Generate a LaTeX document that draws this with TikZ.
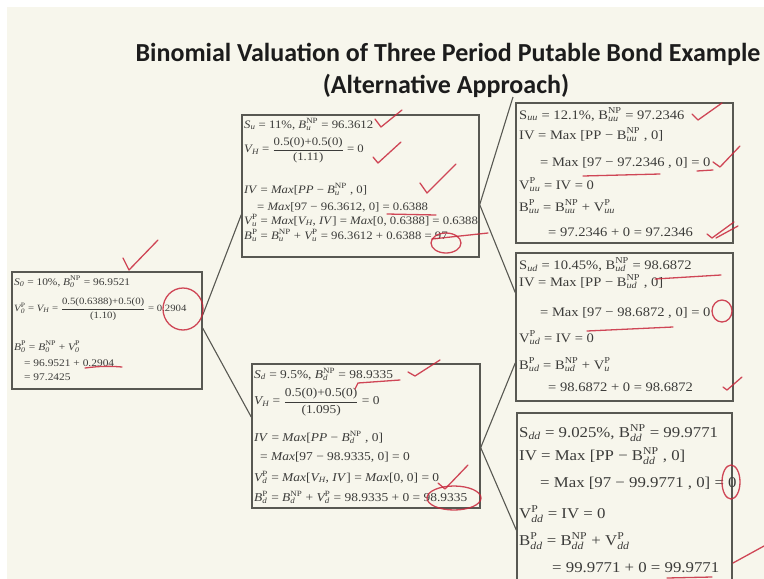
\documentclass[tikz,border=0pt]{standalone}
\usepackage{amsmath}
\usepackage{fontspec}
\setmainfont{Liberation Serif}
\newfontfamily\titlefont{Carlito}
\newfontfamily\wserif{Liberation Serif}[FakeStretch=1.12]
\usetikzlibrary{calc}
\definecolor{bg}{RGB}{247,246,236}
\definecolor{ink}{RGB}{60,60,58}
\definecolor{frame}{RGB}{88,88,82}
\definecolor{pen}{RGB}{200,40,60}
\definecolor{titleink}{RGB}{28,28,28}
\newcommand{\Iv}[3]{\ensuremath{\textit{#1}^{\textup{#3}}_{\textit{#2}}}}
\newcommand{\Is}[2]{\ensuremath{\textit{#1}_{\textit{#2}}}}
\newcommand{\Rv}[3]{\ensuremath{\textup{#1}^{\textup{#3}}_{\textit{#2}}}}
\newcommand{\Rs}[2]{\ensuremath{\textup{#1}_{\textit{#2}}}}
\newcommand{\Fr}[2]{\ensuremath{\displaystyle\frac{\mbox{#1}}{\mbox{#2}}}}
\begin{document}
\begin{tikzpicture}[x=1pt,y=-1pt,
  box/.style={draw=frame, line width=1.4pt, inner sep=0pt},
  link/.style={draw=frame, line width=1.1pt},
  ti/.style={inner sep=0pt, text=ink, anchor=base west, font=\wserif\fontsize{10.2}{12}\selectfont},
  tf/.style={inner sep=0pt, text=ink, anchor=west, font=\wserif\fontsize{9.6}{11}\selectfont},
  tm/.style={inner sep=0pt, text=ink, anchor=base west, font=\wserif\fontsize{11.4}{13}\selectfont},
  tn/.style={inner sep=0pt, text=ink, anchor=base west, font=\wserif\fontsize{12}{14}\selectfont},
  tr/.style={inner sep=0pt, text=ink, anchor=base west, font=\wserif\fontsize{13}{15}\selectfont},
  tb/.style={inner sep=0pt, text=ink, anchor=base west, font=\wserif\fontsize{15}{17}\selectfont},
  ttl/.style={inner sep=0pt, text=titleink, anchor=base, font=\titlefont\bfseries\fontsize{26}{31}\selectfont},
  redpen/.style={draw=pen, line width=1.3pt, line cap=round, line join=round, opacity=0.85}
]
\useasboundingbox (0,0) rectangle (764,579);
\fill[white] (0,0) rectangle (764,579);
\fill[bg] (7,7) rectangle (764,579);

% title
\node[ttl] (title1) at (448,61) {Binomial Valuation of Three Period Putable Bond Example};
\node[ttl] (title2) at (446,93) {(Alternative Approach)};

% boxes
\node[box, minimum width=190, minimum height=117] (B0) at (107,330.5) {};
\node[box, minimum width=237, minimum height=142] (BU) at (360.5,186) {};
\node[box, minimum width=228, minimum height=144] (BD) at (366,436) {};
\node[box, minimum width=217, minimum height=140] (BUU) at (624.5,173) {};
\node[box, minimum width=217, minimum height=148] (BUD) at (624.5,327) {};
\node[box, minimum width=215, minimum height=207] (BDD) at (624.5,516.5) {};

% connectors
\coordinate (uuend) at (513,97);
\draw[link] ($(B0.north east)!0.37!(B0.south east)$) -- ($(BU.north west)!0.70!(BU.south west)$);
\draw[link] ($(B0.north east)!0.48!(B0.south east)$) -- ($(BD.north west)!0.37!(BD.south west)$);
\draw[link] ($(BU.north east)!0.63!(BU.south east)$) -- (uuend);
\draw[link] ($(BU.north east)!0.63!(BU.south east)$) -- ($(BUD.north west)!0.27!(BUD.south west)$);
\draw[link] ($(BD.north east)!0.58!(BD.south east)$) -- ($(BUD.north west)!0.74!(BUD.south west)$);
\draw[link] ($(BD.north east)!0.58!(BD.south east)$) -- ($(BDD.north west)!0.565!(BDD.south west)$);

% root box text
\node[ti] (r1) at (14,285) {\Is{S}{0} = 10\%, \Iv{B}{0}{NP} = 96.9521};
\node[tf] (r2) at (14,309) {\Iv{V}{0}{P} = \Is{V}{H} = \Fr{0.5(0.6388)+0.5(0)}{(1.10)} = 0.2904};
\node[ti] (r3) at (14,350) {\Iv{B}{0}{P} = \Iv{B}{0}{NP} + \Iv{V}{0}{P}};
\node[ti] (r4) at (24,366) {= 96.9521 + 0.2904};
\node[ti] (r5) at (24,380) {= 97.2425};

% middle top text
\node[tm] (m1) at (244,128) {\Is{S}{u} = 11\%, \Iv{B}{u}{NP} = 96.3612};
\node[tm, anchor=west] (m2) at (244,150) {\Is{V}{H} = \Fr{0.5(0)+0.5(0)}{(1.11)} = 0};
\node[tm] (m3) at (244,193) {\textit{IV} = \textit{Max}[\textit{PP} − \Iv{B}{u}{NP} , 0]};
\node[tm] (m4) at (257,210) {= \textit{Max}[97 − 96.3612, 0] = 0.6388};
\node[tm] (m5) at (244,224) {\Iv{V}{u}{P} = \textit{Max}[\Is{V}{H}, \textit{IV}] = \textit{Max}[0, 0.6388] = 0.6388};
\node[tm] (m6) at (244,239) {\Iv{B}{u}{P} = \Iv{B}{u}{NP} + \Iv{V}{u}{P} = 96.3612 + 0.6388 = 97};

% middle bottom text
\node[tn] (d1) at (254,378) {\Is{S}{d} = 9.5\%, \Iv{B}{d}{NP} = 98.9335};
\node[tn, anchor=west] (d2) at (254,402) {\Is{V}{H} = \Fr{0.5(0)+0.5(0)}{(1.095)} = 0};
\node[tn] (d3) at (254,441) {\textit{IV} = \textit{Max}[\textit{PP} − \Iv{B}{d}{NP} , 0]};
\node[tn] (d4) at (260,460) {= \textit{Max}[97 − 98.9335, 0] = 0};
\node[tn] (d5) at (254,481) {\Iv{V}{d}{P} = \textit{Max}[\Is{V}{H}, \textit{IV}] = \textit{Max}[0, 0] = 0};
\node[tn] (d6) at (254,501) {\Iv{B}{d}{P} = \Iv{B}{d}{NP} + \Iv{V}{d}{P} = 98.9335 + 0 = 98.9335};

% right top text
\node[tr] (a1) at (519,119) {\Rs{S}{uu} = 12.1\%, \Rv{B}{uu}{NP} = 97.2346};
\node[tr] (a2) at (519,139) {IV = Max [PP − \Rv{B}{uu}{NP} , 0]};
\node[tr] (a3) at (540,166) {= Max [97 − 97.2346 , 0] = 0};
\node[tr] (a4) at (519,189) {\Rv{V}{uu}{P} = IV = 0};
\node[tr] (a5) at (519,211) {\Rv{B}{uu}{P} = \Rv{B}{uu}{NP} + \Rv{V}{uu}{P}};
\node[tr] (a6) at (548,236) {= 97.2346 + 0 = 97.2346};

% right middle text
\node[tr] (b1) at (519,269) {\Rs{S}{ud} = 10.45\%, \Rv{B}{ud}{NP} = 98.6872};
\node[tr] (b2) at (519,286) {IV = Max [PP − \Rv{B}{ud}{NP} , 0]};
\node[tr] (b3) at (540,316) {= Max [97 − 98.6872 , 0] = 0};
\node[tr] (b4) at (519,342) {\Rv{V}{ud}{P} = IV = 0};
\node[tr] (b5) at (519,369) {\Rv{B}{ud}{P} = \Rv{B}{ud}{NP} + \Rv{V}{u}{P}};
\node[tr] (b6) at (548,391) {= 98.6872 + 0 = 98.6872};

% right bottom text
\node[tb] (c1) at (519,437) {\Rs{S}{dd} = 9.025\%, \Rv{B}{dd}{NP} = 99.9771};
\node[tb] (c2) at (519,460) {IV = Max [PP − \Rv{B}{dd}{NP} , 0]};
\node[tb] (c3) at (540,487) {= Max [97 − 99.9771 , 0] = 0};
\node[tb] (c4) at (519,518) {\Rv{V}{dd}{P} = IV = 0};
\node[tb] (c5) at (519,545) {\Rv{B}{dd}{P} = \Rv{B}{dd}{NP} + \Rv{V}{dd}{P}};
\node[tb] (c6) at (552,572) {= 99.9771 + 0 = 99.9771};

% red handwritten marks
\draw[redpen] (123,258) -- (129,270) -- (158,240);
\draw[redpen] (183,309) ellipse [x radius=20, y radius=21];
\draw[redpen] (85,368) .. controls (100,366) and (110,366) .. (122,367);

\draw[redpen] (375,119) -- (381,127) -- (402,110);
\draw[redpen] (373,157) -- (378,163) -- (401,142);
\draw[redpen] (420,183) -- (427,193) -- (456,164);
\draw[redpen] (387,214) -- (436,215);
\draw[redpen] (432,239) -- (488,233);
\draw[redpen] (446,243) ellipse [x radius=15, y radius=10];

\draw[redpen] (355,389) -- (358,383) -- (400,380);
\draw[redpen] (408,372) -- (415,376) -- (440,360);
\draw[redpen] (438,483) -- (445,489) -- (468,465);
\draw[redpen] (454,498) ellipse [x radius=27, y radius=12];

\draw[redpen] (692,114) -- (698,120) -- (722,103);
\draw[redpen] (583,176) -- (660,174);
\draw[redpen] (697,171) -- (713,170);
\draw[redpen] (713,162) -- (720,167) -- (740,146);
\draw[redpen] (707,234) -- (712,238) -- (734,222);
\draw[redpen] (716,238) -- (738,226);

\draw[redpen] (655,279) -- (721,275);
\draw[redpen] (587,331) -- (673,327);
\draw[redpen] (722,311) ellipse [x radius=10, y radius=11];
\draw[redpen] (723,387) -- (727,390) -- (742,377);

\draw[redpen] (731,482) ellipse [x radius=9, y radius=17];
\draw[redpen] (733,563) -- (764,546);
\draw[redpen] (667,578) -- (712,577);
\end{tikzpicture}
\end{document}
